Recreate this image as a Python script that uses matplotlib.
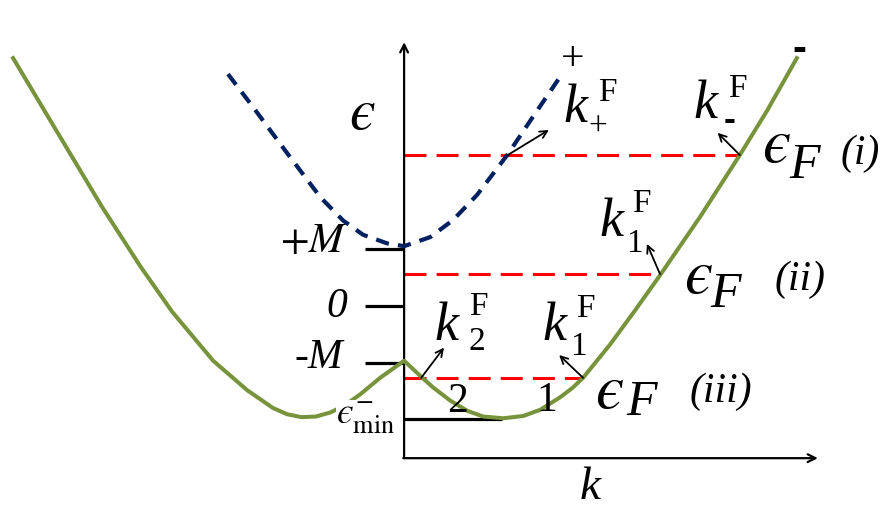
import matplotlib
matplotlib.use('Agg')
import matplotlib.pyplot as plt

plt.rcParams['font.family'] = ['Liberation Serif', 'DejaVu Serif']
plt.rcParams['mathtext.fontset'] = 'stix'

EPS = '$\u03f5$'

# lower band (-), units of M
k_minus = [-6.86, -6.21, -5.30, -4.63, -4.07, -3.35, -2.75, -2.30, -2.05, -1.80, -1.55,
           -1.30, -1.05, -0.77, -0.42, 0.0, 0.32, 0.51, 0.81, 1.11, 1.39, 1.74, 2.09,
           2.39, 2.74, 2.95, 3.14, 3.61, 4.05, 4.49, 5.19, 5.89, 6.37, 6.89]
e_minus = [4.35, 3.26, 1.74, 0.70, -0.10, -0.96, -1.48, -1.79, -1.90, -1.95, -1.94,
           -1.87, -1.75, -1.55, -1.26, -0.96, -1.26, -1.43, -1.66, -1.84, -1.94, -1.97, -1.93,
           -1.82, -1.60, -1.44, -1.26, -0.68, -0.08, 0.54, 1.56, 2.65, 3.43, 4.35]

# upper band (+)
k_plus = [-3.09, -2.65, -2.05, -1.47, -1.07, -0.72, -0.30, 0.0, 0.46, 0.86, 1.28,
          1.81, 2.26, 2.79]
e_plus = [4.07, 3.49, 2.68, 1.91, 1.50, 1.25, 1.10, 1.05, 1.21, 1.51, 1.95,
          2.65, 3.32, 4.10]

# Fermi levels (i), (ii), (iii) and where they meet the outer band
fermi_e = [2.65, 0.56, -1.26]
fermi_k_end = [5.89, 4.49, 3.14]
e_min = -1.98
k_min_line = 1.72

tick_vals = [1, 0, -1]

C_GREEN = '#77933C'
C_BLUE = '#002060'
C_RED = '#FF0000'

fig = plt.figure(figsize=(8.88, 5.18), dpi=100)
ax = fig.add_axes([0, 0, 1, 1])
ax.set_xlim(-7.09, 8.49)
ax.set_ylim(-3.72, 5.37)
ax.axis('off')

# axes with arrow heads
y0 = -2.67
ax.annotate('', xy=(0, 4.63), xytext=(0, y0),
            arrowprops=dict(arrowstyle='->', lw=1.6, color='black', shrinkA=0, shrinkB=0,
                            mutation_scale=14))
ax.annotate('', xy=(7.26, y0), xytext=(-0.015, y0),
            arrowprops=dict(arrowstyle='->', lw=1.6, color='black', shrinkA=0, shrinkB=0,
                            mutation_scale=14))

# ticks
for v in tick_vals:
    ax.plot([-0.68, 0], [v, v], color='black', lw=2.3, solid_capstyle='butt')
ax.plot([0, k_min_line], [e_min, e_min], color='black', lw=2.3, solid_capstyle='butt')

# bands
ax.plot(k_minus, e_minus, color=C_GREEN, lw=2.9, zorder=3, solid_joinstyle='round')
ax.plot(k_plus, e_plus, color=C_BLUE, lw=3.0, dashes=(3.2, 2.2), zorder=3)

# Fermi levels
for e, ke in zip(fermi_e, fermi_k_end):
    ax.plot([0, ke], [e, e], color=C_RED, lw=2.2, dashes=(7.2, 3.3), zorder=2)

# arrows from Fermi points
arrow_pts = [(1.82, 2.65, 0.72, 0.44), (5.89, 2.65, -0.39, 0.39),
             (4.49, 0.56, -0.23, 0.53), (3.14, -1.26, -0.42, 0.40),
             (0.30, -1.26, 0.40, 0.53)]
for kx, ey, dx, dy in arrow_pts:
    ax.annotate('', xy=(kx + dx, ey + dy), xytext=(kx, ey),
                arrowprops=dict(arrowstyle='->', lw=1.3, color='black', shrinkA=0, shrinkB=0,
                                mutation_scale=13), zorder=4)

# axis labels
ax.text(-0.74, 3.35, EPS, fontsize=42, ha='center', va='center')
ax.text(3.26, -3.19, 'k', fontsize=34, style='italic', ha='center', va='center')

# tick labels
ax.text(-1.0, 1.12, '$+M$', fontsize=30, ha='right', va='center')
ax.text(-1.0, -0.02, '0', fontsize=30, style='italic', ha='right', va='center')
ax.text(-1.07, -0.91, '-M', fontsize=30, style='italic', ha='right', va='center')
ax.text(-0.16, -1.97, '$\u03f5^{-}_{\\mathrm{min}}$', fontsize=27, ha='right', va='center',
        zorder=5, bbox=dict(facecolor='white', edgecolor='none', pad=0.3))

# branch markers
ax.text(0.93, -1.68, '2', fontsize=30, ha='center', va='center')
ax.text(2.51, -1.67, '1', fontsize=30, ha='center', va='center')
ax.text(2.96, 4.32, '+', fontsize=30, ha='center', va='center')
ax.text(6.93, 4.49, '-', fontsize=30, fontweight='bold', family='Liberation Sans',
        ha='center', va='center')

# Fermi momentum labels: (k pos, F pos, sub pos, sub text)
kf_labels = [((3.00, 3.46), (3.56, 3.75), (3.40, 3.14), '+'),
             ((5.28, 3.53), (5.84, 3.82), (5.72, 3.26), '-'),
             ((3.63, 1.46), (4.16, 1.79), (4.04, 1.09), '1'),
             ((2.63, -0.37), (3.18, -0.05), (3.05, -0.72), '1'),
             ((0.75, -0.37), (1.30, -0.02), (1.28, -0.63), '2')]
for kp, fp, sp, sub in kf_labels:
    ax.text(*kp, 'k', fontsize=39, style='italic', ha='center', va='center')
    ax.text(*fp, 'F', fontsize=24, ha='center', va='center')
    if sub == '-':
        ax.text(*sp, '-', fontsize=26, fontweight='bold', family='Liberation Sans',
                ha='center', va='center')
    else:
        ax.text(*sp, sub, fontsize=24, ha='center', va='center')

# Fermi energy labels
ef_labels = [((6.54, 2.79), (7.02, 2.46), (8.00, 2.68), '(i)'),
             ((5.16, 0.49), (5.64, 0.19), (6.95, 0.46), '(ii)'),
             ((3.61, -1.53), (4.16, -1.70), (5.56, -1.51), '(iii)')]
for ep, fp, cp, case in ef_labels:
    ax.text(*ep, EPS, fontsize=46, ha='center', va='center')
    ax.text(*fp, 'F', fontsize=36, style='italic', ha='center', va='center')
    ax.text(*cp, case, fontsize=30, style='italic', ha='center', va='center')

fig.savefig('out.png', dpi=100)
